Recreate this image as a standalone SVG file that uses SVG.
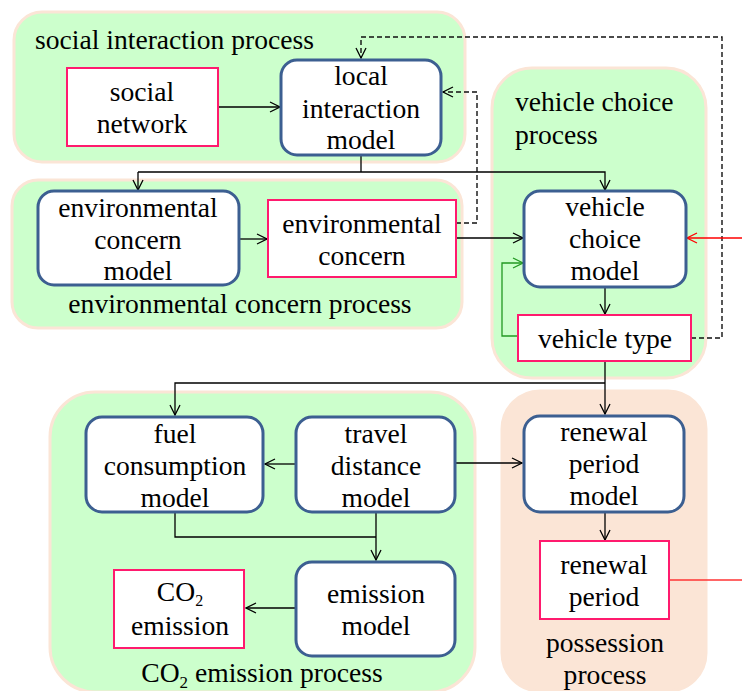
<svg xmlns="http://www.w3.org/2000/svg" width="742" height="691" viewBox="0 0 742 691" font-family="'Liberation Serif', 'Times New Roman', Tinos, 'DejaVu Serif', serif">
<defs>
<style>
.cont{fill:#ccffcc;stroke:#fbe5d6;stroke-width:3}
.poss{fill:#fbe5d6;stroke:#fbe5d6;stroke-width:3}
.model{fill:#ffffff;stroke:#3c5f91;stroke-width:3}
.data{fill:#ffffff;stroke:#ff1a6e;stroke-width:2}
text{font-size:27.6px;fill:#000}
.c{text-anchor:middle}
.ln{fill:none;stroke:#000;stroke-width:1.3}
.dash{fill:none;stroke:#111;stroke-width:1.4;stroke-dasharray:5 3}
</style>
<marker id="ah" viewBox="0 0 12 12" refX="11" refY="6" markerWidth="12" markerHeight="12" markerUnits="userSpaceOnUse" orient="auto">
<path d="M1,1 L11,6 L1,11" fill="none" stroke="#000" stroke-width="1.3"/>
</marker>
<marker id="ahr" viewBox="0 0 12 12" refX="11" refY="6" markerWidth="12" markerHeight="12" markerUnits="userSpaceOnUse" orient="auto">
<path d="M1,1 L11,6 L1,11" fill="none" stroke="#ff0000" stroke-width="1.3"/>
</marker>
<marker id="ahg" viewBox="0 0 12 12" refX="11" refY="6" markerWidth="12" markerHeight="12" markerUnits="userSpaceOnUse" orient="auto">
<path d="M1,1 L11,6 L1,11" fill="none" stroke="#229922" stroke-width="1.3"/>
</marker>
</defs>

<g id="containers">
<g id="social-interaction-process">
<rect class="cont" x="14" y="12" width="451" height="150" rx="28"/>
<text x="35" y="49">social interaction process</text>
</g>
<g id="environmental-concern-process">
<rect class="cont" x="12" y="180" width="450" height="148" rx="26"/>
<text class="c" x="240" y="313">environmental concern process</text>
</g>
<g id="vehicle-choice-process">
<rect class="cont" x="492" y="68" width="214" height="310" rx="40"/>
<text x="515" y="111">vehicle choice</text>
<text x="515" y="144">process</text>
</g>
<g id="co2-emission-process">
<rect class="cont" x="50" y="392" width="425" height="300" rx="45"/>
<text class="c" x="262" y="682">CO<tspan font-size="17" dy="6">2</tspan><tspan dy="-6"> emission process</tspan></text>
</g>
<g id="possession-process">
<rect class="poss" x="502" y="391" width="204" height="300" rx="38"/>
<text class="c" x="605" y="652">possession</text>
<text class="c" x="605" y="684">process</text>
</g>
</g>

<g id="connectors">
<line class="ln" x1="218" y1="107" x2="280" y2="107" marker-end="url(#ah)"/>
<polyline class="ln" points="361,155 361,172"/>
<polyline class="ln" points="138,172 605,172 605,190" marker-end="url(#ah)"/>
<line class="ln" x1="138" y1="172" x2="138" y2="190" marker-end="url(#ah)"/>
<line class="ln" x1="239" y1="239" x2="267" y2="239" marker-end="url(#ah)"/>
<line class="ln" x1="456" y1="238" x2="523" y2="238" marker-end="url(#ah)"/>
<polyline class="dash" points="456,223 477,223 477,92 443,92" marker-end="url(#ah)"/>
<polyline class="dash" points="691,338 722,338 722,37 361,37 361,58" marker-end="url(#ah)"/>
<line class="ln" x1="605" y1="287" x2="605" y2="314" marker-end="url(#ah)"/>
<polyline fill="none" stroke="#229922" stroke-width="1.3" points="518,336 502,336 502,263 523,263" marker-end="url(#ahg)"/>
<line stroke="#ff0000" stroke-width="1.3" x1="742" y1="238" x2="687" y2="238" marker-end="url(#ahr)"/>
<line class="ln" x1="605" y1="361" x2="605" y2="383" stroke-width="2"/>
<polyline class="ln" points="605,383 175,383 175,415" marker-end="url(#ah)"/>
<line class="ln" x1="605" y1="383" x2="605" y2="414" marker-end="url(#ah)"/>
<line class="ln" x1="296" y1="464" x2="265" y2="464" marker-end="url(#ah)"/>
<line class="ln" x1="455" y1="463" x2="522" y2="463" marker-end="url(#ah)"/>
<polyline class="ln" points="175,512 175,537 376,537"/>
<line class="ln" x1="376" y1="512" x2="376" y2="560" stroke-width="1.8" marker-end="url(#ah)"/>
<line class="ln" x1="296" y1="608" x2="246" y2="608" marker-end="url(#ah)"/>
<line class="ln" x1="605" y1="512" x2="605" y2="540" marker-end="url(#ah)"/>
<line stroke="#ff3333" stroke-width="1.3" x1="669" y1="580" x2="742" y2="580"/>
</g>

<g id="social-network">
<rect class="data" x="67" y="68" width="151" height="78"/>
<text class="c" x="142" y="101">social</text>
<text class="c" x="142" y="133">network</text>
</g>
<g id="local-interaction-model">
<rect class="model" x="281" y="60" width="160" height="95" rx="16"/>
<text class="c" x="361" y="85">local</text>
<text class="c" x="361" y="118">interaction</text>
<text class="c" x="361" y="149">model</text>
</g>
<g id="environmental-concern-model">
<rect class="model" x="38" y="191" width="201" height="94" rx="16"/>
<text class="c" x="138" y="217">environmental</text>
<text class="c" x="138" y="249">concern</text>
<text class="c" x="138" y="280">model</text>
</g>
<g id="environmental-concern">
<rect class="data" x="268" y="200" width="188" height="77"/>
<text class="c" x="362" y="233">environmental</text>
<text class="c" x="362" y="265">concern</text>
</g>
<g id="vehicle-choice-model">
<rect class="model" x="524" y="191" width="162" height="96" rx="16"/>
<text class="c" x="605" y="216">vehicle</text>
<text class="c" x="605" y="248">choice</text>
<text class="c" x="605" y="280">model</text>
</g>
<g id="vehicle-type">
<rect class="data" x="518" y="315" width="173" height="46"/>
<text class="c" x="605" y="348">vehicle type</text>
</g>
<g id="fuel-consumption-model">
<rect class="model" x="86" y="417" width="177" height="95" rx="16"/>
<text class="c" x="175" y="443">fuel</text>
<text class="c" x="175" y="475">consumption</text>
<text class="c" x="175" y="507">model</text>
</g>
<g id="travel-distance-model">
<rect class="model" x="296" y="417" width="159" height="95" rx="16"/>
<text class="c" x="376" y="443">travel</text>
<text class="c" x="376" y="475">distance</text>
<text class="c" x="376" y="507">model</text>
</g>
<g id="emission-model">
<rect class="model" x="296" y="562" width="159" height="94" rx="16"/>
<text class="c" x="376" y="603">emission</text>
<text class="c" x="376" y="635">model</text>
</g>
<g id="co2-emission">
<rect class="data" x="114" y="570" width="130" height="78"/>
<text class="c" x="180" y="601">CO<tspan font-size="16" dy="5">2</tspan></text>
<text class="c" x="180" y="635">emission</text>
</g>
<g id="renewal-period-model">
<rect class="model" x="524" y="416" width="160" height="96" rx="16"/>
<text class="c" x="604" y="441">renewal</text>
<text class="c" x="604" y="473">period</text>
<text class="c" x="604" y="505">model</text>
</g>
<g id="renewal-period">
<rect class="data" x="540" y="541" width="129" height="78"/>
<text class="c" x="604" y="574">renewal</text>
<text class="c" x="604" y="606">period</text>
</g>
</svg>
